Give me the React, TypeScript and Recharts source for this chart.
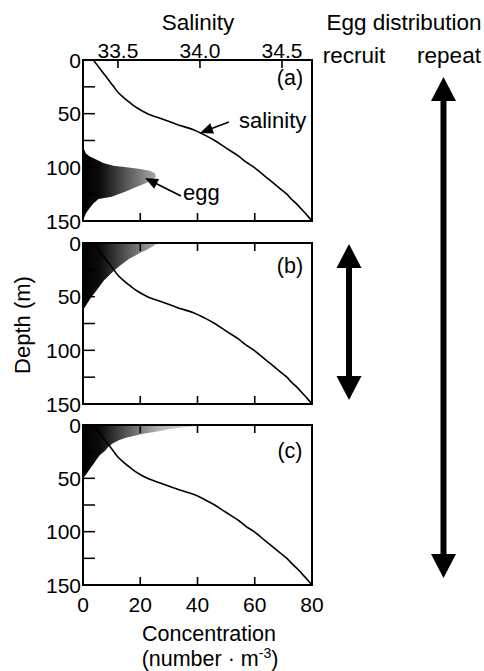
import React from 'react';
import { ComposedChart, Line, Area, XAxis, YAxis, ReferenceArea } from 'recharts';

const FONT = '"Liberation Sans", Arial, Helvetica, sans-serif';

// Axis ticks
const depthTicks = [0, 25, 50, 75, 100, 125, 150];
const concTicks = [0, 20, 40, 60, 80];
const salTicks = [33.5, 34.0, 34.5];
const salDomain = [33.287, 34.683];

// Salinity profile (same in every panel)
const salDepth = [0, 5, 10, 15, 20, 25, 30, 35, 40, 45, 50, 55, 60, 65, 70, 75, 80, 85, 90, 95, 100, 105, 110, 115, 120, 125, 130, 135, 140, 145, 150];
const salValue = [33.35, 33.375, 33.4, 33.425, 33.45, 33.475, 33.5, 33.535, 33.575, 33.62, 33.68, 33.77, 33.86, 33.96, 34.03, 34.09, 34.14, 34.19, 34.24, 34.28, 34.33, 34.37, 34.41, 34.45, 34.49, 34.53, 34.56, 34.595, 34.625, 34.655, 34.683];

// Egg distributions (number per m3)
const eggDepthA = [79, 82, 87, 90, 93, 96, 98.5, 100, 101.6, 103.2, 105.7, 108.8, 112, 115, 118, 122.7, 127.4, 129.6, 133.6, 138.3, 143, 147.7, 150];
const eggConcA = [0, 0.2, 1.0, 2.4, 4.8, 7.1, 10.6, 15.3, 19.9, 23.4, 25.2, 25.5, 24, 21.7, 18.8, 14.7, 10, 5.4, 3.6, 2.2, 1.0, 0.3, 0];

const eggDepthB = [0, 3, 6, 9, 12, 15, 18, 21, 25, 30, 35, 40, 45, 50, 55, 60, 62];
const eggConcB = [26, 24.5, 22.5, 20, 18, 16, 14.5, 13, 11.2, 9.2, 7.3, 5.9, 4.5, 3.0, 1.8, 0.6, 0];

const eggDepthC = [0, 1, 2, 4, 6, 8, 10, 12, 14, 17, 20, 24, 28, 32, 36, 40, 44, 48, 50];
const eggConcC = [44, 40, 35, 30, 26, 21.5, 18, 15, 12.7, 10.5, 9, 7.8, 6, 4.8, 3.8, 2.7, 1.7, 0.6, 0];

type Row = { depth: number; sal?: number; egg?: number };

function buildRows(eggDepth: number[], eggConc: number[]): Row[] {
  const map = new Map<number, Row>();
  salDepth.forEach((d, i) => {
    map.set(d, { depth: d, sal: salValue[i] });
  });
  eggDepth.forEach((d, i) => {
    const r = map.get(d) || { depth: d };
    r.egg = eggConc[i];
    map.set(d, r);
  });
  return Array.from(map.values()).sort((a, b) => a.depth - b.depth);
}

const dataA = buildRows(eggDepthA, eggConcA);
const dataB = buildRows(eggDepthB, eggConcB);
const dataC = buildRows(eggDepthC, eggConcC);

const DepthTick = (props: any) => {
  const { x, y, payload } = props;
  const v = payload.value;
  const ax = x + 2;
  return (
    <g>
      {v !== 0 && v !== 150 && <line x1={ax} x2={ax + 12} y1={y} y2={y} stroke="#000" strokeWidth={1.5} />}
      {v % 50 === 0 && (
        <text x={x} y={y} dy="0.36em" textAnchor="end" fontSize={21} fontFamily={FONT} fill="#000">
          {v}
        </text>
      )}
    </g>
  );
};

// bottom ticks; optionally mirrored inward ticks on the top border (plotH above)
const makeBottomTick = (showLabel: boolean, plotH: number) => (props: any) => {
  const { x, y, payload } = props;
  const v = payload.value;
  const ay = y - 2;
  const inner = v > 0 && v < 80;
  return (
    <g>
      {inner && <line x1={x} x2={x} y1={ay} y2={ay - 8} stroke="#000" strokeWidth={1.6} />}
      {inner && plotH > 0 && (
        <line x1={x} x2={x} y1={ay - plotH} y2={ay - plotH + 8} stroke="#000" strokeWidth={1.6} />
      )}
      {showLabel && (
        <text x={x} y={ay + 27} textAnchor="middle" fontSize={21} fontFamily={FONT} fill="#000">
          {v}
        </text>
      )}
    </g>
  );
};

const SalTick = (props: any) => {
  const { x, y, payload } = props;
  const ay = y + 2;
  return (
    <g>
      <line x1={x} x2={x} y1={ay} y2={ay + 8} stroke="#000" strokeWidth={1.6} />
      <text x={x} y={ay - 2} textAnchor="middle" fontSize={21} fontFamily={FONT} fill="#000">
        {Number(payload.value).toFixed(1)}
      </text>
    </g>
  );
};

function Panel({ data, id, width, height, margin, topHeight, bottomHeight, salTop, bottomLabels }: any) {
  const plotH = height - margin.top - margin.bottom - topHeight - bottomHeight;
  return (
    <ComposedChart layout="vertical" width={width} height={height} data={data} margin={margin}>
      <defs>
        <linearGradient id={id} gradientUnits="userSpaceOnUse" x1={83} y1={0} x2={222} y2={0}>
          <stop offset="0" stopColor="#000" />
          <stop offset="0.12" stopColor="#0a0a0a" />
          <stop offset="0.55" stopColor="#b4b4b4" />
          <stop offset="1" stopColor="#fbfbfb" />
        </linearGradient>
      </defs>
      <XAxis
        xAxisId="sal"
        type="number"
        orientation="top"
        domain={salDomain}
        allowDataOverflow
        ticks={salTop ? salTicks : []}
        height={topHeight}
        hide={!salTop}
        axisLine={false}
        tickLine={false}
        tickSize={0}
        tickMargin={2}
        interval={0}
        tick={SalTick}
      />
      <XAxis
        xAxisId="conc"
        type="number"
        orientation="bottom"
        domain={[0, 80]}
        allowDataOverflow
        ticks={concTicks}
        height={bottomHeight}
        axisLine={false}
        tickLine={false}
        tickSize={0}
        tickMargin={2}
        interval={0}
        tick={makeBottomTick(bottomLabels, salTop ? 0 : plotH)}
      />
      <YAxis
        type="number"
        dataKey="depth"
        domain={[0, 150]}
        allowDataOverflow
        ticks={depthTicks}
        width={83}
        axisLine={false}
        tickLine={false}
        tickSize={0}
        tickMargin={2}
        interval={0}
        tick={DepthTick}
      />
      <Area
        xAxisId="conc"
        dataKey="egg"
        type="linear"
        fill={`url(#${id})`}
        fillOpacity={1}
        stroke="none"
        connectNulls
        isAnimationActive={false}
      />
      <Line
        xAxisId="sal"
        dataKey="sal"
        type="monotone"
        stroke="#000"
        strokeWidth={1.6}
        dot={false}
        connectNulls
        isAnimationActive={false}
      />
      <ReferenceArea
        xAxisId="conc"
        x1={0}
        x2={80}
        y1={0}
        y2={150}
        fill="none"
        stroke="#000"
        strokeWidth={2}
        ifOverflow="visible"
      />
    </ComposedChart>
  );
}

function head(tipX: number, tipY: number, fromX: number, fromY: number, len: number, halfW: number) {
  const dx = tipX - fromX;
  const dy = tipY - fromY;
  const d = Math.hypot(dx, dy);
  const ux = dx / d;
  const uy = dy / d;
  const bx = tipX - ux * len;
  const by = tipY - uy * len;
  const px = -uy;
  const py = ux;
  return `${tipX},${tipY} ${bx + px * halfW},${by + py * halfW} ${bx - px * halfW},${by - py * halfW}`;
}

const T = { fontFamily: FONT, fill: '#000' } as const;

export default function App() {
  return (
    <div style={{ position: 'absolute', left: 0, top: 0, width: 484, height: 671, background: '#fff', overflow: 'hidden' }}>
      <div style={{ position: 'absolute', left: 0, top: 0 }}>
        <Panel data={dataA} id="eggA" width={330} height={240} margin={{ top: 30, right: 18, bottom: 9, left: 0 }} topHeight={30} bottomHeight={10} salTop bottomLabels={false} />
      </div>
      <div style={{ position: 'absolute', left: 0, top: 230 }}>
        <Panel data={dataB} id="eggB" width={330} height={195} margin={{ top: 13, right: 18, bottom: 15, left: 0 }} topHeight={0} bottomHeight={6} salTop={false} bottomLabels={false} />
      </div>
      <div style={{ position: 'absolute', left: 0, top: 410 }}>
        <Panel data={dataC} id="eggC" width={330} height={261} margin={{ top: 15, right: 18, bottom: 56, left: 0 }} topHeight={0} bottomHeight={30} salTop={false} bottomLabels />
      </div>
      <svg width={484} height={671} style={{ position: 'absolute', left: 0, top: 0, pointerEvents: 'none' }}>
        <text x={198} y={30} textAnchor="middle" fontSize={22.5} {...T}>Salinity</text>
        <text x={404} y={30} textAnchor="middle" fontSize={22.5} {...T}>Egg distribution</text>
        <text x={354} y={63} textAnchor="middle" fontSize={22.5} {...T}>recruit</text>
        <text x={449} y={63} textAnchor="middle" fontSize={22.5} {...T}>repeat</text>
        <text x={30} y={325} textAnchor="middle" fontSize={22} transform="rotate(-90 30 325)" {...T}>Depth (m)</text>
        <text x={290} y={85} textAnchor="middle" fontSize={21.5} {...T}>(a)</text>
        <text x={290} y={273} textAnchor="middle" fontSize={21.5} {...T}>(b)</text>
        <text x={290} y={458} textAnchor="middle" fontSize={21.5} {...T}>(c)</text>
        <text x={239} y={128} fontSize={22} {...T}>salinity</text>
        <text x={183} y={200} fontSize={22} {...T}>egg</text>
        <text x={209} y={641} textAnchor="middle" fontSize={21.5} {...T}>Concentration</text>
        <text x={210} y={666} textAnchor="middle" fontSize={21.5} {...T}>
          (number · m<tspan dy={-8} fontSize={14}>-3</tspan><tspan dy={8}>)</tspan>
        </text>
        {/* annotation arrows */}
        <line x1={229} y1={122} x2={209} y2={129.5} stroke="#000" strokeWidth={1.6} />
        <polygon points={head(200, 133, 229, 122, 13, 5.5)} fill="#000" />
        <line x1={181} y1={196} x2={155} y2={183} stroke="#000" strokeWidth={1.6} />
        <polygon points={head(145, 178, 181, 196, 13, 5.5)} fill="#000" />
        {/* recruit arrow */}
        <line x1={349} y1={262} x2={349} y2={382} stroke="#000" strokeWidth={6} />
        <polygon points="349,244 336.5,268 361.5,268" fill="#000" />
        <polygon points="349,400 336.5,376 361.5,376" fill="#000" />
        {/* repeat arrow */}
        <line x1={443.5} y1={95} x2={443.5} y2={560} stroke="#000" strokeWidth={6} />
        <polygon points="443.5,77 431,101 456,101" fill="#000" />
        <polygon points="443.5,578 431,554 456,554" fill="#000" />
      </svg>
    </div>
  );
}
